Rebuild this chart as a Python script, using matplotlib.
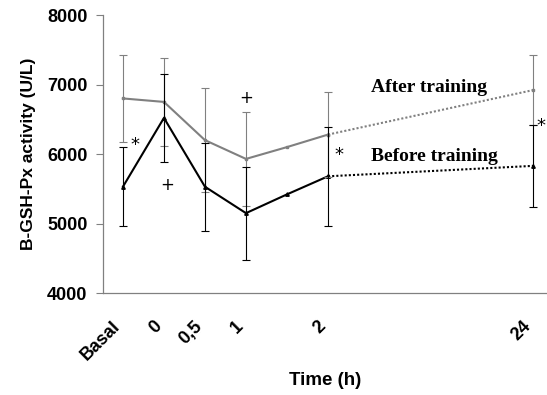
import matplotlib
matplotlib.use("Agg")
import matplotlib.pyplot as plt
import matplotlib.transforms as mtransforms

# x positions are categorical-ish slots on the time axis
xpos = [0, 1, 2, 3, 4, 5, 10]
tick_pos = [0, 1, 2, 3, 5, 10]
tick_labels = ["Basal", "0", "0,5", "1", "2", "24"]

after_mean = [6800, 6750, 6200, 5930, 6100, 6280, 6920]
after_err = [630, 630, 750, 680, 0, 610, 500]
before_mean = [5530, 6520, 5530, 5150, 5420, 5680, 5830]
before_err = [570, 630, 630, 670, 0, 710, 590]

gray = "#808080"

fig = plt.figure(figsize=(5.47, 3.95), dpi=100)
ax = fig.add_axes([0.188, 0.258, 0.812, 0.704])

# solid part (Basal .. 2 h), dotted part (2 h .. 24 h)
ax.plot(xpos[:6], after_mean[:6], color=gray, lw=1.5, marker="s", ms=2)
ax.plot(xpos[5:], after_mean[5:], color=gray, lw=1.5, ls=(0, (1, 1)), marker="s", ms=2)
ax.plot(xpos[:6], before_mean[:6], color="black", lw=1.5, marker="^", ms=2.5)
ax.plot(xpos[5:], before_mean[5:], color="black", lw=1.5, ls=(0, (1, 1)), marker="^", ms=2.5)

ex = [x for x, e in zip(xpos, after_err) if e]
ax.errorbar(ex, [m for m, e in zip(after_mean, after_err) if e],
            yerr=[e for e in after_err if e], fmt="none", ecolor=gray,
            elinewidth=0.8, capsize=3, capthick=0.8)
ex = [x for x, e in zip(xpos, before_err) if e]
ax.errorbar(ex, [m for m, e in zip(before_mean, before_err) if e],
            yerr=[e for e in before_err if e], fmt="none", ecolor="black",
            elinewidth=0.8, capsize=3, capthick=0.8)

# significance marks
ax.text(0.3, 6130, "*", fontsize=13, ha="center", va="center")
ax.text(1.08, 5560, "+", fontsize=12, ha="center", va="center")
ax.text(3.0, 6800, "+", fontsize=12, ha="center", va="center")
ax.text(5.27, 5980, "*", fontsize=13, ha="center", va="center")
ax.text(10.2, 6400, "*", fontsize=13, ha="center", va="center")

ax.text(6.05, 6960, "After training", family="Liberation Serif",
        fontweight="bold", fontsize=14, va="center")
ax.text(6.05, 5970, "Before training", family="Liberation Serif",
        fontweight="bold", fontsize=14, va="center")

ax.set_xlim(-0.49, 10.34)
ax.set_ylim(4000, 8000)
ax.set_yticks([4000, 5000, 6000, 7000, 8000])
ax.set_xticks(tick_pos)
ax.set_xticklabels(tick_labels, rotation=45, ha="right", rotation_mode="anchor")
ax.tick_params(axis="x", length=0, pad=18)
ax.tick_params(axis="y", length=5, color=gray, width=0.8, pad=6)
shift = mtransforms.ScaledTranslation(-0.11, 0, fig.dpi_scale_trans)
for lab in ax.get_xticklabels():
    lab.set_transform(lab.get_transform() + shift)
for lab in ax.get_xticklabels() + ax.get_yticklabels():
    lab.set_family("Liberation Sans")
    lab.set_fontweight("bold")
    lab.set_fontsize(13)

ax.spines["top"].set_visible(False)
ax.spines["right"].set_visible(False)
for s in ("left", "bottom"):
    ax.spines[s].set_color(gray)
    ax.spines[s].set_linewidth(0.9)

ax.set_ylabel("B-GSH-Px activity (U/L)", family="Liberation Sans",
              fontweight="bold", fontsize=12.5, labelpad=8)
ax.set_xlabel("Time (h)", family="Liberation Sans", fontweight="bold",
              fontsize=13.5, labelpad=6)

fig.savefig("out.png", dpi=100)
